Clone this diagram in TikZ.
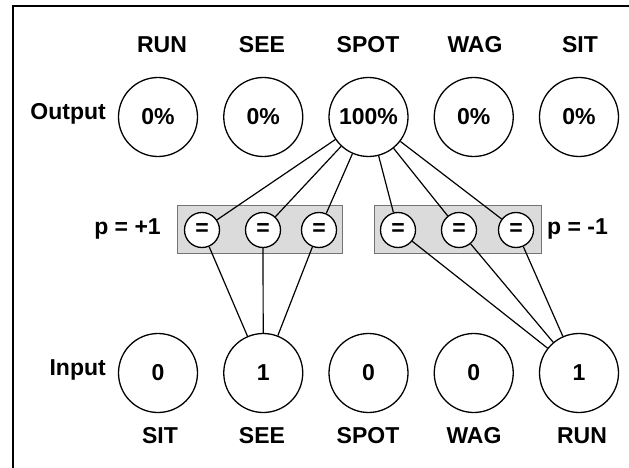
\documentclass[tikz,border=0pt]{standalone}
\usepackage{fontspec}
\setmainfont{Liberation Sans}
\usetikzlibrary{positioning}

\begin{document}
\begin{tikzpicture}[x=1pt,y=1pt,yscale=-1,xscale=1,
    every node/.style={font=\fontsize{23}{27}\selectfont\bfseries},
    unit/.style={draw,circle,line width=1.3pt,minimum size=79pt,inner sep=0pt},
    equnit/.style={draw,circle,line width=1.3pt,fill=white,minimum size=35pt,inner sep=0pt},
    wbox/.style={draw=black!55,line width=0.8pt,fill=black!14},
    link/.style={line width=1.2pt}]
    \useasboundingbox (0,0) rectangle (629,468);

    % frame
    \draw [line width=2.5pt] (13,468) -- (13,6) -- (629,6) ;

    % output layer
    \node (outRUN) [unit] at (158,117) {0\%};
    \node (outSEE) [unit] at (263.25,117) {0\%};
    \node (outSPOT) [unit] at (368.5,117) {100\%};
    \node (outWAG) [unit] at (473.75,117) {0\%};
    \node (outSIT) [unit] at (579,117) {0\%};
    \node (labRUN) at (162,45) {RUN};
    \node (labSEE) at (262,45) {SEE};
    \node (labSPOT) at (368,45) {SPOT};
    \node (labWAG) at (475,45) {WAG};
    \node (labSIT) at (580,45) {SIT};
    \node (lblOut) [anchor=east,inner sep=0pt] at (106,114) {Output};

    % weight boxes
    \draw [wbox] (177,205) rectangle (342,253) ;
    \draw [wbox] (374,205) rectangle (541,253) ;
    \node (pPos) [anchor=east,inner sep=0pt] at (161,229) {p = +1};
    \node (pNeg) [anchor=west,inner sep=0pt] at (547,229) {p = -1};
    \node (eqA) [equnit] at (202,230) {=};
    \node (eqB) [equnit] at (263,230) {=};
    \node (eqC) [equnit] at (319,230) {=};
    \node (eqD) [equnit] at (398,230) {=};
    \node (eqE) [equnit] at (459,230) {=};
    \node (eqF) [equnit] at (516,230) {=};

    % input layer
    \node (inSIT) [unit] at (158,373) {0};
    \node (inSEE) [unit] at (263.25,373) {1};
    \node (inSPOT) [unit] at (368.5,373) {0};
    \node (inWAG) [unit] at (473.75,373) {0};
    \node (inRUN) [unit] at (579,373) {1};
    \node (labSITb) at (160,436) {SIT};
    \node (labSEEb) at (262,436) {SEE};
    \node (labSPOTb) at (368,436) {SPOT};
    \node (labWAGb) at (474,436) {WAG};
    \node (labRUNb) at (582,436) {RUN};
    \node (lblIn) [anchor=east,inner sep=0pt] at (106,370) {Input};

    % connections
    \draw [link] (outSPOT) -- (eqA) ;
    \draw [link] (outSPOT) -- (eqB) ;
    \draw [link] (outSPOT) -- (eqC) ;
    \draw [link] (outSPOT) -- (eqD) ;
    \draw [link] (outSPOT) -- (eqE) ;
    \draw [link] (outSPOT) -- (eqF) ;
    \draw [link] (eqA) -- (inSEE) ;
    \draw [link] (eqB) -- (inSEE) ;
    \draw [link] (eqC) -- (inSEE) ;
    \draw [link] (eqD) -- (inRUN) ;
    \draw [link] (eqE) -- (inRUN) ;
    \draw [link] (eqF) -- (inRUN) ;
\end{tikzpicture}
\end{document}
